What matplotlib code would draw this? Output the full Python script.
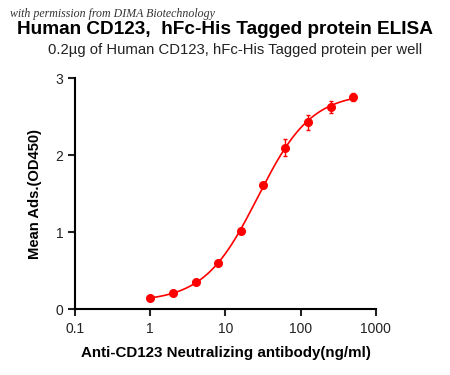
import numpy as np
import matplotlib
matplotlib.use("Agg")
import matplotlib.pyplot as plt

plt.rcParams['font.family'] = ['Liberation Sans', 'DejaVu Sans']

# data
conc = [1, 2, 4, 8, 16, 31.25, 62.5, 125, 250, 500]  # ng/ml
od = [0.15, 0.21, 0.35, 0.60, 1.02, 1.61, 2.10, 2.43, 2.63, 2.76]
err = [0.01, 0.01, 0.01, 0.02, 0.02, 0.03, 0.11, 0.10, 0.08, 0.05]
xticks = [0.1, 1, 10, 100, 1000]
xticklabels = ['0.1', '1', '10', '100', '1000']
yticks = [0, 1, 2, 3]

x = np.array(conc, dtype=float)
y = np.array(od, dtype=float)

# 4PL fit (simple Gauss-Newton), like the original fitted curve
def f4pl(p, xx):
    a, b, c, d = p
    return d + (a - d) / (1 + (xx / c) ** b)

p = np.array([y.min(), 1.0, 25.0, y.max()])
for _ in range(200):
    r = y - f4pl(p, x)
    J = np.zeros((len(x), 4))
    for k in range(4):
        dp = np.zeros(4)
        dp[k] = 1e-6 * max(abs(p[k]), 1.0)
        J[:, k] = (f4pl(p + dp, x) - f4pl(p, x)) / dp[k]
    step = np.linalg.lstsq(J.T @ J + 1e-3 * np.eye(4), J.T @ r, rcond=None)[0]
    p = p + 0.5 * step

xs = np.logspace(0, np.log10(500), 300)

fig = plt.figure(figsize=(4.5, 3.75), dpi=100)
ax = fig.add_axes([0.167, 0.175, 0.668, 0.616])

ax.plot(xs, f4pl(p, xs), color='#ff0000', lw=1.2)
ax.errorbar(x, y, yerr=err, fmt='o', color='#ff0000', ms=5.5,
            elinewidth=1.0, capsize=1.5, capthick=1.0)

ax.set_xscale('log')
ax.set_xlim(0.1, 1000)
ax.set_ylim(0, 3)
ax.set_xticks(xticks)
ax.set_xticklabels(xticklabels)
ax.xaxis.set_minor_locator(matplotlib.ticker.NullLocator())
ax.set_yticks(yticks)

for s in ['top', 'right']:
    ax.spines[s].set_visible(False)
for s in ['left', 'bottom']:
    ax.spines[s].set_linewidth(1.5)
ax.tick_params(width=1.5, length=5, labelsize=10, colors='#222222')
ax.tick_params(axis='x', pad=4)

ax.set_xlabel('Anti-CD123 Neutralizing antibody(ng/ml)', fontsize=10.9,
              fontweight='bold', labelpad=7)
ax.set_ylabel('Mean Ads.(OD450)', fontsize=10.6, fontweight='bold', labelpad=10)

fig.text(0.5, 0.922, 'Human CD123,  hFc-His Tagged protein ELISA',
         ha='center', va='center', fontsize=13.7, fontweight='bold')
fig.text(0.523, 0.866, '0.2\u00b5g of Human CD123, hFc-His Tagged protein per well',
         ha='center', va='center', fontsize=10.7, color='#222222')
fig.text(0.022, 0.963, 'with permission from DIMA Biotechnology',
         ha='left', va='center', fontsize=8.6, style='italic',
         family=['Liberation Serif', 'DejaVu Serif'], color='#333333')

fig.savefig('out.png', dpi=100)
